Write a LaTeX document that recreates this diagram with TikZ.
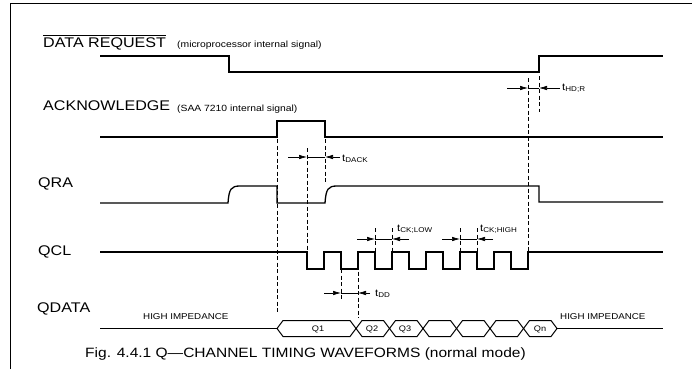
\documentclass[tikz,border=0pt]{standalone}
\usepackage{fontspec}
\setmainfont[FakeStretch=1.15]{Liberation Sans}
\usetikzlibrary{arrows.meta}

\begin{document}
\begin{tikzpicture}[x=1pt, y=-1pt,
  sig/.style={line width=1.3pt, line join=miter},
  bus/.style={line width=1pt},
  guide/.style={line width=0.6pt, dash pattern=on 4pt off 2.5pt},
  dim/.style={line width=0.7pt, -{Latex[length=8pt,width=4.5pt]}},
  signame/.style={anchor=base west, inner sep=0pt, font=\fontsize{14}{16}\selectfont},
  note/.style={anchor=base west, inner sep=0pt, font=\fontsize{9}{11}\selectfont},
  tlab/.style={anchor=west, inner sep=0pt, font=\fontsize{10}{12}\selectfont},
  cell/.style={inner sep=0pt, font=\fontsize{8}{10}\selectfont}
]
\useasboundingbox (0,0) rectangle (692,369);
% frame
\draw[line width=1pt] (10,369) -- (10,3.5) -- (692,3.5);

% signal names
\node[signame] (dreq) at (43,47.5) {DATA REQUEST};
\draw[line width=0.9pt] ([yshift=2.5pt]dreq.north west) -- ([yshift=2.5pt]dreq.north east);
\node[note] (dreqn) at (177,48) {(microprocessor internal signal)};
\node[signame] (ack) at (43,110) {ACKNOWLEDGE};
\node[note] (ackn) at (177,111) {(SAA 7210 internal signal)};
\node[signame] (qra) at (38,187) {QRA};
\node[signame] (qcl) at (38,255) {QCL};
\node[signame] (qdata) at (37,312) {QDATA};
\node[note, font=\fontsize{8.5}{10}\selectfont] (hiz1) at (143,319) {HIGH IMPEDANCE};
\node[note, font=\fontsize{8.5}{10}\selectfont] (hiz2) at (560,319) {HIGH IMPEDANCE};
\node[signame, font=\fontsize{13.5}{16}\selectfont] (cap) at (85,357)
  {Fig. 4.4.1 Q—CHANNEL TIMING WAVEFORMS (normal mode)};

% waveforms
\draw[sig] (100,56) -- (229,56) -- (229,72) -- (539,72) -- (539,56) -- (663,56);
\draw[sig] (100,137) -- (277,137) -- (277,121) -- (325,121) -- (325,137) -- (663,137);
\draw[sig] (100,203) -- (228,203) .. controls (229,189) and (231,186) .. (240,186)
  -- (277,186) -- (277,203) -- (325,203) .. controls (326,189) and (328,186) .. (337,186)
  -- (539,186) -- (539,202) -- (663,202);
\draw[sig] (100,252) foreach \k in {0,...,6} {
  -- (307+34*\k,252) -- (307+34*\k,269) -- (324+34*\k,269) -- (324+34*\k,252)} -- (663,252);

% data bus
\draw[sig] (100,328.5) -- (277,328.5);
\foreach \a/\b in {277/356, 356/389.5, 389.5/423, 423/456.5, 456.5/490, 490/523.5, 523.5/557}
  \draw[bus] (\a,328.5) -- (\a+6,320.5) -- (\b-6,320.5) -- (\b,328.5)
    -- (\b-6,336.5) -- (\a+6,336.5) -- cycle;
\draw[sig] (557,328.5) -- (663,328.5);
\node[cell] (q1) at (318,329) {Q1};
\node[cell] (q2) at (372,329) {Q2};
\node[cell] (q3) at (405,329) {Q3};
\node[cell] (qn) at (540,329) {Qn};

% guide lines
\foreach \x/\ya/\yb in {277/139/314, 307/148/252, 325/139/183, 528/78/252, 539/76/112,
    375/228/252, 392/228/252, 460/228/252, 477/228/252, 341/269/300, 358/252/318}
  \draw[guide] (\x,\ya) -- (\x,\yb);

% timing marks
\coordinate (hdl) at (528,88);  \coordinate (hdr) at (539,88);
\coordinate (dkl) at (307,157); \coordinate (dkr) at (325,157);
\coordinate (lol) at (375,239); \coordinate (lor) at (392,239);
\coordinate (hil) at (460,239); \coordinate (hir) at (477,239);
\coordinate (ddl) at (341,293); \coordinate (ddr) at (358,293);

\draw[dim] ([xshift=-21pt]hdl) -- (hdl);
\draw[dim] ([xshift=21pt]hdr) -- (hdr);
\draw[line width=0.7pt] (hdl) -- (hdr);
\node[tlab] (thd) at ([xshift=23pt]hdr) {t\textsubscript{HD;R}};

\draw[dim] ([xshift=-19pt]dkl) -- (dkl);
\draw[dim] ([xshift=15pt]dkr) -- (dkr);
\draw[line width=0.7pt] (dkl) -- (dkr);
\node[tlab] (tdk) at ([xshift=17pt,yshift=-2pt]dkr) {t\textsubscript{DACK}};

\draw[dim] ([xshift=-18pt]lol) -- (lol);
\draw[dim] ([xshift=17pt]lor) -- (lor);
\draw[line width=0.7pt] (lol) -- (lor);
\node[tlab] (tlo) at ([xshift=5pt,yshift=10pt]lor) {t\textsubscript{CK;LOW}};

\draw[dim] ([xshift=-18pt]hil) -- (hil);
\draw[dim] ([xshift=16pt]hir) -- (hir);
\draw[line width=0.7pt] (hil) -- (hir);
\node[tlab] (thi) at ([xshift=3pt,yshift=10pt]hir) {t\textsubscript{CK;HIGH}};

\draw[dim] ([xshift=-17pt]ddl) -- (ddl);
\draw[dim] ([xshift=12pt]ddr) -- (ddr);
\draw[line width=0.7pt] (ddl) -- (ddr);
\node[tlab] (tdd) at ([xshift=17pt,yshift=-1pt]ddr) {t\textsubscript{DD}};
\end{tikzpicture}
\end{document}
